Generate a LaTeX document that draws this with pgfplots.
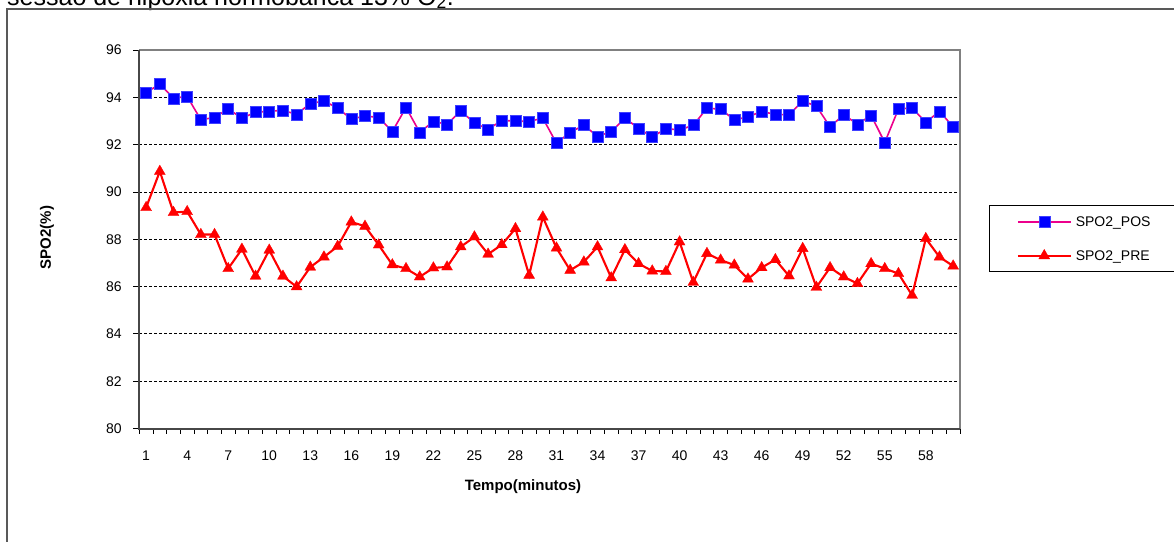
\documentclass[border=0pt]{standalone}
\usepackage{fontspec}
\setmainfont{Liberation Sans}
\usepackage{pgfplots}
\usepackage{pgfplotstable}
\pgfplotsset{compat=1.18}

% SpO2 per minute, pre and post session
\pgfplotstableread{
t  pos    pre
1  94.20  89.34
2  94.56  90.87
3  93.96  89.13
4  94.04  89.17
5  93.05  88.20
6  93.15  88.20
7  93.51  86.76
8  93.12  87.58
9  93.37  86.44
10 93.41  87.54
11 93.45  86.44
12 93.28  85.99
13 93.74  86.82
14 93.84  87.25
15 93.55  87.70
16 93.08  88.73
17 93.21  88.55
18 93.15  87.76
19 92.56  86.92
20 93.57  86.76
21 92.52  86.41
22 92.98  86.79
23 92.86  86.83
24 93.42  87.68
25 92.92  88.10
26 92.65  87.37
27 93.02  87.77
28 93.00  88.45
29 92.98  86.48
30 93.12  88.94
31 92.06  87.63
32 92.52  86.69
33 92.82  87.04
34 92.35  87.68
35 92.55  86.37
36 93.12  87.56
37 92.69  86.97
38 92.32  86.66
39 92.68  86.64
40 92.62  87.89
41 92.82  86.18
42 93.54  87.40
43 93.50  87.12
44 93.05  86.91
45 93.17  86.32
46 93.41  86.80
47 93.27  87.14
48 93.27  86.45
49 93.84  87.61
50 93.63  85.97
51 92.75  86.80
52 93.27  86.41
53 92.86  86.13
54 93.24  86.97
55 92.09  86.76
56 93.51  86.55
57 93.55  85.63
58 92.94  88.03
59 93.41  87.25
60 92.75  86.87
}\spodata

\begin{document}
\begin{tikzpicture}[x=1pt,y=1pt]
\useasboundingbox (0,0) rectangle (1174,-541);
% caption line cut off by the page edge
\node[anchor=base west, inner sep=0pt, font=\fontsize{25}{30}\selectfont] at (7,-5)
  {sessão de hipóxia normobárica 13\% O\textsubscript{2}.};
\draw[color=black!65, line width=1.2pt] (7,-545) -- (7,-9) -- (1180,-9);

\begin{axis}[
    at={(139.3pt,-428.5pt)}, anchor=south west,
    width=820.7pt, height=378.5pt, scale only axis,
    xmin=0.5, xmax=60.5, ymin=80, ymax=96,
    clip=false,
    axis line style={draw=black!50, line width=1.3pt},
    xtick={1,4,...,58},
    minor xtick={0.5,1.5,...,60.5},
    major x tick style={draw=none},
    ytick={80,82,...,96},
    tick align=outside,
    xtick pos=bottom, ytick pos=left,
    major tick length=6pt, minor tick length=5pt,
    tick style={black, line width=0.8pt},
    ymajorgrids,
    major grid style={black, line width=0.8pt, dash pattern=on 3pt off 2pt},
    ticklabel style={font=\fontsize{14}{16}\selectfont},
    /pgf/number format/assume math mode=true,
    yticklabel style={xshift=-8pt},
    xticklabel style={yshift=-13pt},
    xlabel={\textbf{Tempo(minutos)}},
    xlabel style={at={(axis description cs:0.4675,-0.1546)}, anchor=center,
      font=\fontsize{15}{18}\selectfont},
    ylabel={\textbf{SPO2(\%)}},
    ylabel style={at={(axis description cs:-0.1125,0.505)}, anchor=center,
      font=\fontsize{15}{18}\selectfont},
    legend image code/.code={
      \path (-27pt,0pt);
      \draw[mark repeat=2,mark phase=2,#1] plot coordinates {(0pt,0pt) (26.5pt,0pt) (53pt,0pt)};
    },
    legend cell align=left,
    legend style={at={(axis description cs:1.0357,0.5905)}, anchor=north west,
      draw=black, line width=0.8pt, inner xsep=0pt, inner ysep=11pt,
      row sep=22pt, column sep=4pt, font=\fontsize{14}{16}\selectfont,
      nodes={inner sep=0pt, text height=10pt, text depth=0pt, text width=99pt, align=left}},
]
\addplot[color=magenta, line width=1.6pt, mark=square*, mark size=5.5pt,
  mark options={fill=blue, draw=blue!75!white, line width=0.5pt}]
  table[x=t, y=pos] {\spodata};
\addlegendentry{SPO2\_POS}
\addplot[color=red, line width=2.1pt, mark=triangle*, mark size=6.3pt,
  mark options={fill=red, draw=red, line width=0.3pt}]
  table[x=t, y=pre] {\spodata};
\addlegendentry{SPO2\_PRE}
% darker left and bottom axis lines
\draw[color=black!72, line width=2pt] (rel axis cs:1,0) -- (rel axis cs:0,0) -- (rel axis cs:0,1);
\end{axis}
\end{tikzpicture}
\end{document}
